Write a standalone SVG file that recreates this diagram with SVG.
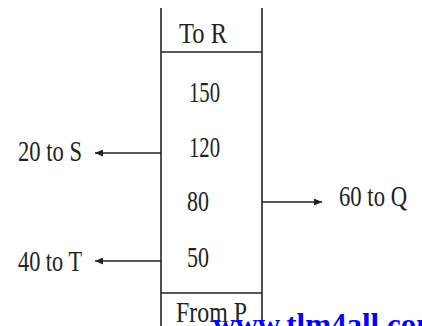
<svg xmlns="http://www.w3.org/2000/svg" width="422" height="326" viewBox="0 0 422 326">
<defs>
<style>
.ln{stroke:#222;stroke-width:1.6;fill:none}
.t{font-family:"Liberation Serif","DejaVu Serif",serif;font-size:29px;fill:#222}
.wm{font-family:"Liberation Serif","Times New Roman",serif;font-size:31px;font-weight:bold;fill:#0000ff}
</style>
<marker id="ah" markerUnits="userSpaceOnUse" markerWidth="9" markerHeight="7" refX="8" refY="3.5" orient="auto">
<path d="M0,0 L8,3.5 L0,7 Z" fill="#222"/>
</marker>
</defs>
<rect width="422" height="326" fill="#fff"/>
<g id="account">
<line class="ln" x1="161" y1="8" x2="161" y2="326"/>
<line class="ln" x1="262" y1="8" x2="262" y2="326"/>
<line class="ln" x1="161" y1="52" x2="262" y2="52"/>
<line class="ln" x1="161" y1="293" x2="262" y2="293"/>
<text class="t" x="179" y="43" textLength="48" lengthAdjust="spacingAndGlyphs">To R</text>
<text class="t" x="189" y="102" textLength="31" lengthAdjust="spacingAndGlyphs">150</text>
<text class="t" x="189" y="157" textLength="31" lengthAdjust="spacingAndGlyphs">120</text>
<text class="t" x="187" y="211" textLength="22" lengthAdjust="spacingAndGlyphs">80</text>
<text class="t" x="187" y="267" textLength="22" lengthAdjust="spacingAndGlyphs">50</text>
<text class="t" x="176" y="322" textLength="71" lengthAdjust="spacingAndGlyphs">From P</text>
</g>
<g id="connectors">
<line class="ln" x1="161" y1="153" x2="95" y2="153" marker-end="url(#ah)"/>
<line class="ln" x1="161" y1="261" x2="95" y2="261" marker-end="url(#ah)"/>
<line class="ln" x1="262" y1="202" x2="322" y2="202" marker-end="url(#ah)"/>
</g>
<g id="node-s"><text class="t" x="18" y="161" textLength="64" lengthAdjust="spacingAndGlyphs">20 to S</text></g>
<g id="node-t"><text class="t" x="18" y="271" textLength="64" lengthAdjust="spacingAndGlyphs">40 to T</text></g>
<g id="node-q"><text class="t" x="339" y="206" textLength="68" lengthAdjust="spacingAndGlyphs">60 to Q</text></g>
<text class="wm" x="213" y="335">www.tlm4all.com</text>
</svg>
